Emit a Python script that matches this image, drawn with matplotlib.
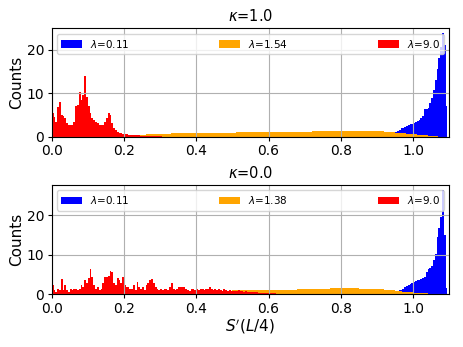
import numpy as np
import matplotlib
matplotlib.use('Agg')
import matplotlib.pyplot as plt

# histogram counts, one value per bin
BIN_FINE = 0.005     # red and blue
BIN_COARSE = 0.01    # orange

# kappa = 1.0
red_top_start = 0.0
red_top = [5.4, 4.6, 3.4, 6.9, 7.9, 5.0, 4.8, 4.2, 3.1, 2.8,
           2.7, 2.8, 3.4, 7.1, 7.3, 10.3, 8.4, 9.6, 13.9, 9.2,
           7.0, 5.5, 4.3, 3.8, 3.4, 3.1, 2.7, 2.8, 2.8, 3.4,
           4.4, 5.4, 5.0, 3.1, 2.0, 1.5, 1.15, 0.9, 0.75, 0.7,
           0.6, 0.55, 0.5, 0.45, 0.4, 0.38, 0.35, 0.3, 0.28, 0.25,
           0.22, 0.2, 0.18, 0.16, 0.14, 0.12, 0.1, 0.09, 0.08, 0.07,
           0.06, 0.05, 0.04, 0.03, 0.03, 0.02, 0.02, 0.01, 0.01, 0.01]
orange_top_start = 0.20
orange_top = [0.2, 0.28, 0.35, 0.4, 0.45, 0.5, 0.54, 0.58, 0.62, 0.65,
              0.68, 0.7, 0.72, 0.74, 0.76, 0.78, 0.8, 0.82, 0.83, 0.85,
              0.86, 0.87, 0.88, 0.89, 0.9, 0.91, 0.92, 0.93, 0.94, 0.95,
              0.96, 0.97, 0.98, 0.99, 1.0, 1.01, 1.02, 1.03, 1.04, 1.05,
              1.06, 1.07, 1.08, 1.09, 1.1, 1.11, 1.12, 1.14, 1.15, 1.16,
              1.18, 1.19, 1.2, 1.22, 1.23, 1.25, 1.27, 1.29, 1.31, 1.33,
              1.35, 1.36, 1.37, 1.38, 1.38, 1.38, 1.37, 1.35, 1.33, 1.3,
              1.26, 1.2, 1.14, 1.08, 1.0, 0.92, 0.84, 0.76, 0.68, 0.6,
              0.52, 0.45, 0.38, 0.31, 0.24, 0.17, 0.11, 0.05]
blue_top_start = 0.94
blue_top = [0.3, 0.6, 1.0, 1.3, 1.6, 1.9, 2.1, 2.3, 2.5, 2.7,
            2.9, 3.0, 3.2, 3.3, 3.5, 3.8, 4.2, 4.8, 6.3, 6.4,
            6.6, 7.8, 9.0, 10.8, 13.0, 15.5, 18.0, 20.5, 23.7, 21.0,
            7.0, 0.0]

# kappa = 0.0
red_bot_start = 0.0
red_bot = [2.3, 1.0, 0.6, 1.4, 1.0, 3.7, 1.0, 2.3, 1.0, 0.6,
           1.4, 1.0, 1.2, 1.4, 1.0, 1.4, 2.3, 1.9, 3.6, 2.7,
           4.0, 6.4, 4.4, 2.3, 1.4, 1.9, 1.0, 1.4, 2.7, 4.2,
           4.4, 4.6, 5.8, 5.7, 2.7, 2.3, 4.0, 3.6, 2.7, 4.4,
           2.3, 1.9, 1.9, 1.4, 1.4, 2.3, 1.0, 3.1, 1.9, 1.4,
           1.9, 1.0, 2.3, 2.7, 3.6, 3.8, 2.7, 1.9, 1.4, 1.0,
           1.4, 1.0, 1.2, 1.4, 1.0, 1.9, 2.7, 1.4, 1.0, 1.4,
           1.7, 1.9, 1.7, 1.9, 1.4, 1.0, 0.85, 1.2, 1.4, 1.0,
           1.2, 1.0, 1.2, 1.3, 1.0, 1.2, 1.4, 1.7, 1.2, 1.0,
           1.2, 1.0, 1.3, 1.0, 0.85, 1.2, 1.0, 0.85, 1.0, 0.75,
           0.85, 0.8, 0.7, 0.9, 0.7, 0.8, 0.6, 0.7, 0.6, 0.5,
           0.5, 0.45, 0.45, 0.4, 0.35, 0.35, 0.3, 0.28, 0.25, 0.22,
           0.2, 0.18, 0.16, 0.14, 0.12, 0.1, 0.09, 0.08, 0.07, 0.06,
           0.05, 0.04, 0.04, 0.03, 0.03, 0.02, 0.02, 0.01, 0.01, 0.01]
orange_bot_start = 0.25
orange_bot = [0.3, 0.33, 0.36, 0.4, 0.43, 0.46, 0.5, 0.53, 0.56, 0.6,
              0.62, 0.65, 0.67, 0.7, 0.72, 0.74, 0.76, 0.78, 0.8, 0.82,
              0.84, 0.85, 0.87, 0.88, 0.89, 0.9, 0.91, 0.92, 0.93, 0.94,
              0.95, 0.96, 0.97, 0.98, 0.99, 1.0, 1.02, 1.04, 1.06, 1.08,
              1.1, 1.12, 1.14, 1.16, 1.18, 1.2, 1.23, 1.26, 1.29, 1.32,
              1.35, 1.38, 1.41, 1.43, 1.45, 1.45, 1.44, 1.43, 1.42, 1.41,
              1.4, 1.38, 1.36, 1.33, 1.3, 1.24, 1.17, 1.1, 1.0, 0.9,
              0.8, 0.7, 0.6, 0.5, 0.4, 0.33, 0.27, 0.21, 0.15, 0.1,
              0.06, 0.03, 0.01]
blue_bot_start = 0.94
blue_bot = [0.3, 0.45, 0.6, 0.75, 0.9, 1.1, 1.4, 1.7, 2.0, 2.2,
            2.5, 2.8, 3.1, 3.3, 3.5, 3.6, 3.7, 4.0, 4.4, 5.5,
            6.3, 6.6, 7.0, 8.6, 10.3, 14.6, 16.7, 19.7, 26.4, 15.0,
            1.5, 0.0]

panels = [
    (r'$\kappa$=1.0', ['0.11', '1.54', '9.0'],
     (blue_top_start, blue_top), (orange_top_start, orange_top), (red_top_start, red_top)),
    (r'$\kappa$=0.0', ['0.11', '1.38', '9.0'],
     (blue_bot_start, blue_bot), (orange_bot_start, orange_bot), (red_bot_start, red_bot)),
]

fig = plt.figure(figsize=(4.63, 3.47), dpi=100)
ax1 = fig.add_axes([0.1117, 0.606, 0.8587, 0.3124])
ax2 = fig.add_axes([0.1117, 0.1527, 0.8587, 0.3141])


def draw_bins(ax, start, counts, width, color, label):
    edges = start + width * np.arange(len(counts))
    ax.bar(edges, counts, width=width, align='edge', color=color,
           linewidth=0, label=label)


for ax, (title, lams, blue, orange, red) in zip([ax1, ax2], panels):
    draw_bins(ax, blue[0], blue[1], BIN_FINE, 'blue', r'$\lambda$=' + lams[0])
    draw_bins(ax, orange[0], orange[1], BIN_COARSE, 'orange', r'$\lambda$=' + lams[1])
    draw_bins(ax, red[0], red[1], BIN_FINE, 'red', r'$\lambda$=' + lams[2])
    ax.set_xlim(0, 1.1)
    ax.set_xticks([0.0, 0.2, 0.4, 0.6, 0.8, 1.0])
    ax.set_yticks([0, 10, 20])
    ax.tick_params(labelsize=10, length=3, pad=2.5)
    ax.grid(True)
    ax.set_title(title, fontsize=10.5, pad=5)
    ax.set_ylabel('Counts', fontsize=11, labelpad=2)
    ax.legend(loc='upper center', ncol=3, mode='expand', fontsize=7.5)

ax2.set_xlabel(r"$S'(L/4)$", fontsize=11, labelpad=1)

fig.savefig('out.png', dpi=100)
